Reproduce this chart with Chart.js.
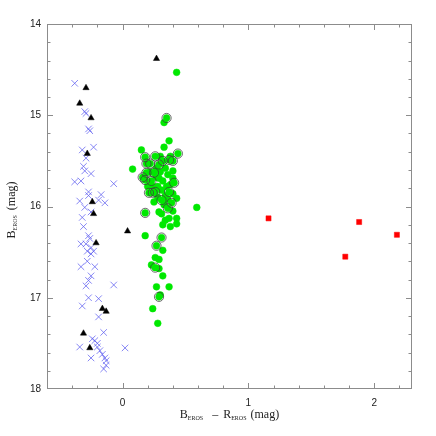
<!DOCTYPE html>
<html>
<head>
<meta charset="utf-8">
<script src="https://cdn.jsdelivr.net/npm/chart.js@4"></script>
<style>
  body { margin: 0; background: #fff; }
  #wrap { width: 436px; height: 436px; }
</style>
</head>
<body>
<div id="wrap"><canvas id="cmd" width="436" height="436"></canvas></div>
<script>
// tick labels
const xTicks = [0, 1, 2];
const yTicks = [14, 15, 16, 17, 18];

// blue crosses
const crossPts = [
  [-0.38, 14.65], [-0.30, 14.96], [-0.29, 14.98], [-0.27, 15.15], [-0.26, 15.17],
  [-0.32, 15.38], [-0.23, 15.35], [-0.29, 15.47], [-0.31, 15.56], [-0.30, 15.61],
  [-0.25, 15.64], [-0.38, 15.73], [-0.33, 15.72], [-0.07, 15.75], [-0.27, 15.84],
  [-0.27, 15.88], [-0.17, 15.87], [-0.34, 15.94], [-0.19, 15.93], [-0.14, 15.96],
  [-0.30, 16.01], [-0.25, 16.06], [-0.32, 16.12], [-0.31, 16.22], [-0.27, 16.32],
  [-0.26, 16.35], [-0.33, 16.41], [-0.29, 16.41], [-0.25, 16.45], [-0.28, 16.49],
  [-0.23, 16.49], [-0.25, 16.52], [-0.28, 16.60], [-0.33, 16.66], [-0.22, 16.66],
  [-0.25, 16.76], [-0.27, 16.81], [-0.29, 16.87], [-0.07, 16.86], [-0.27, 17.00],
  [-0.19, 17.01], [-0.32, 17.09], [-0.19, 17.21], [-0.15, 17.38], [-0.24, 17.45],
  [-0.22, 17.47], [-0.20, 17.50], [-0.34, 17.54], [-0.20, 17.54], [-0.18, 17.58],
  [-0.16, 17.62], [-0.14, 17.66], [-0.13, 17.69], [-0.25, 17.66], [0.02, 17.55],
  [-0.13, 17.74], [-0.15, 17.78]
];

// black triangles
const triPts = [
  [0.27, 14.38], [-0.29, 14.70], [-0.34, 14.87], [-0.25, 15.03], [-0.28, 15.42],
  [-0.24, 15.95], [-0.23, 16.08], [0.04, 16.27], [-0.21, 16.40], [-0.16, 17.12],
  [-0.13, 17.15], [-0.31, 17.39], [-0.26, 17.55]
];

// green dots
const greenPts = [
  [0.43, 14.53], [0.35, 15.03], [0.33, 15.08], [0.37, 15.28], [0.33, 15.35],
  [0.15, 15.38], [0.18, 15.46], [0.26, 15.45], [0.30, 15.45], [0.38, 15.45],
  [0.44, 15.42], [0.08, 15.59], [0.19, 15.53], [0.22, 15.53], [0.29, 15.54],
  [0.37, 15.49], [0.40, 15.50], [0.32, 15.50], [0.40, 15.61], [0.19, 15.63],
  [0.25, 15.63], [0.16, 15.68], [0.18, 15.71], [0.23, 15.72], [0.29, 15.69],
  [0.40, 15.69], [0.41, 15.74], [0.21, 15.85], [0.24, 15.85], [0.26, 15.84],
  [0.37, 15.84], [0.43, 15.91], [0.31, 15.93], [0.39, 15.96], [0.36, 16.02],
  [0.59, 16.01], [0.18, 16.07], [0.29, 16.06], [0.37, 16.13], [0.43, 16.13],
  [0.32, 16.20], [0.43, 16.19], [0.18, 16.32], [0.31, 16.34], [0.27, 16.43],
  [0.32, 16.48], [0.26, 16.56], [0.29, 16.58], [0.23, 16.64], [0.26, 16.67],
  [0.29, 16.68], [0.32, 16.76], [0.27, 16.88], [0.37, 16.88], [0.29, 16.99],
  [0.30, 16.97], [0.24, 17.12], [0.28, 17.28],
  [0.27, 15.58], [0.30, 15.62], [0.34, 15.58], [0.36, 15.65], [0.32, 15.72],
  [0.35, 15.78], [0.28, 15.78], [0.38, 15.76], [0.31, 15.82], [0.34, 15.88],
  [0.28, 15.90], [0.25, 15.95], [0.33, 15.98], [0.40, 16.05], [0.31, 16.08],
  [0.34, 16.15], [0.38, 16.22], [0.22, 15.62], [0.20, 15.78], [0.24, 15.78],
  [0.27, 15.68], [0.36, 15.92], [0.40, 15.86]
];

// open rings round some green dots
const ringPts = [
  [0.35, 15.03], [0.18, 15.46], [0.26, 15.45], [0.44, 15.42], [0.19, 15.53],
  [0.22, 15.53], [0.29, 15.54], [0.37, 15.49], [0.40, 15.50], [0.32, 15.50],
  [0.19, 15.63], [0.25, 15.63], [0.16, 15.68], [0.18, 15.71], [0.23, 15.72],
  [0.41, 15.74], [0.21, 15.85], [0.24, 15.85], [0.26, 15.84], [0.37, 15.84],
  [0.31, 15.93], [0.39, 15.96], [0.36, 16.02], [0.18, 16.07], [0.31, 16.34],
  [0.27, 16.43], [0.26, 16.67], [0.29, 16.99]
];

// red squares
const redPts = [[1.16, 16.13], [1.88, 16.17], [2.18, 16.31], [1.77, 16.55]];

const toXY = arr => arr.map(p => ({ x: p[0], y: p[1] }));

const frameColor = '#8c8c8c';

function drawParts(ctx, parts) {
  let total = 0;
  parts.forEach(p => {
    if (p.gap) { total += p.gap; return; }
    ctx.font = p.sub ? '6px "Liberation Serif"' : '12px "Liberation Serif"';
    p.w = ctx.measureText(p.t).width;
    total += p.w;
  });
  let cx = -total / 2;
  parts.forEach(p => {
    if (p.gap) { cx += p.gap; return; }
    ctx.font = p.sub ? '6px "Liberation Serif"' : '12px "Liberation Serif"';
    ctx.fillText(p.t, cx, p.sub ? 2 : 0);
    cx += p.w;
  });
}

const framePlugin = {
  id: 'frame',
  afterDraw(chart) {
    const { ctx, chartArea: { left, right, top, bottom }, scales: { x, y } } = chart;
    ctx.save();
    ctx.strokeStyle = frameColor;
    ctx.lineWidth = 1;
    ctx.strokeRect(left + 0.5, top + 0.5, right - left - 1, bottom - top - 1);
    ctx.beginPath();
    for (let i = -3; i <= 11; i++) {
      const v = i * 0.2;
      const major = i % 5 === 0;
      const len = major ? 6 : 3.5;
      const px = Math.round(x.getPixelForValue(v)) + 0.5;
      if (px <= left + 1 || px >= right - 1) continue;
      ctx.moveTo(px, bottom); ctx.lineTo(px, bottom - len);
      ctx.moveTo(px, top); ctx.lineTo(px, top + len);
    }
    for (let i = 1; i < 20; i++) {
      const v = 14 + i * 0.2;
      const major = i % 5 === 0;
      const len = major ? 6 : 3.5;
      const py = Math.round(y.getPixelForValue(v)) + 0.5;
      ctx.moveTo(left, py); ctx.lineTo(left + len, py);
      ctx.moveTo(right, py); ctx.lineTo(right - len, py);
    }
    ctx.stroke();

    ctx.fillStyle = '#222';
    ctx.textBaseline = 'alphabetic';
    ctx.textAlign = 'left';
    ctx.translate((left + right) / 2, 418);
    drawParts(ctx, [
      { t: 'B' }, { t: 'EROS', sub: true }, { gap: 9 }, { t: '\u2013' }, { gap: 5 },
      { t: 'R' }, { t: 'EROS', sub: true }, { gap: 4 }, { t: '(mag)' }
    ]);
    ctx.restore();

    ctx.save();
    ctx.fillStyle = '#222';
    ctx.translate(15, 210);
    ctx.rotate(-Math.PI / 2);
    drawParts(ctx, [{ t: 'B' }, { t: 'EROS', sub: true }, { gap: 5 }, { t: '(mag)' }]);
    ctx.restore();
  }
};

new Chart(document.getElementById('cmd'), {
  type: 'scatter',
  data: {
    datasets: [
      {
        label: 'rings',
        data: toXY(ringPts),
        pointStyle: 'circle',
        pointRadius: 4.6,
        backgroundColor: 'rgba(0,0,0,0)',
        borderColor: 'rgba(60,60,60,0.75)',
        borderWidth: 1,
        order: 0
      },
      {
        label: 'triangles',
        data: toXY(triPts),
        pointStyle: 'triangle',
        pointRadius: 3.6,
        backgroundColor: '#000',
        borderColor: '#000',
        borderWidth: 0.5,
        order: 1
      },
      {
        label: 'green',
        data: toXY(greenPts),
        pointStyle: 'circle',
        pointRadius: 3.4,
        backgroundColor: '#00e800',
        borderColor: '#00e800',
        borderWidth: 0.5,
        order: 2
      },
      {
        label: 'crosses',
        data: toXY(crossPts),
        pointStyle: 'crossRot',
        pointRadius: 4.6,
        backgroundColor: 'rgba(95,95,240,0.75)',
        borderColor: 'rgba(95,95,240,0.75)',
        borderWidth: 1,
        order: 3
      },
      {
        label: 'red',
        data: toXY(redPts),
        pointStyle: 'rect',
        pointRadius: 3.6,
        backgroundColor: '#ff0000',
        borderColor: '#ff0000',
        borderWidth: 0.5,
        order: 4
      }
    ]
  },
  options: {
    responsive: false,
    devicePixelRatio: 1,
    animation: false,
    layout: { padding: { top: 24, right: 24, left: 0, bottom: 0 } },
    plugins: {
      legend: { display: false },
      tooltip: { enabled: false }
    },
    scales: {
      x: {
        type: 'linear',
        min: -0.6,
        max: 2.3,
        afterBuildTicks: s => { s.ticks = xTicks.map(v => ({ value: v })); },
        afterFit: s => { s.height = 47; },
        grid: { display: false, drawTicks: false },
        border: { display: false },
        ticks: {
          padding: 8,
          maxRotation: 0,
          color: '#222',
          font: { family: 'Liberation Sans', size: 10 }
        }
      },
      y: {
        type: 'linear',
        min: 14,
        max: 18,
        reverse: true,
        afterBuildTicks: s => { s.ticks = yTicks.map(v => ({ value: v })); },
        afterFit: s => { s.width = 47; },
        grid: { display: false, drawTicks: false },
        border: { display: false },
        ticks: {
          padding: 6,
          color: '#222',
          font: { family: 'Liberation Sans', size: 10 }
        }
      }
    }
  },
  plugins: [framePlugin]
});
</script>
</body>
</html>
